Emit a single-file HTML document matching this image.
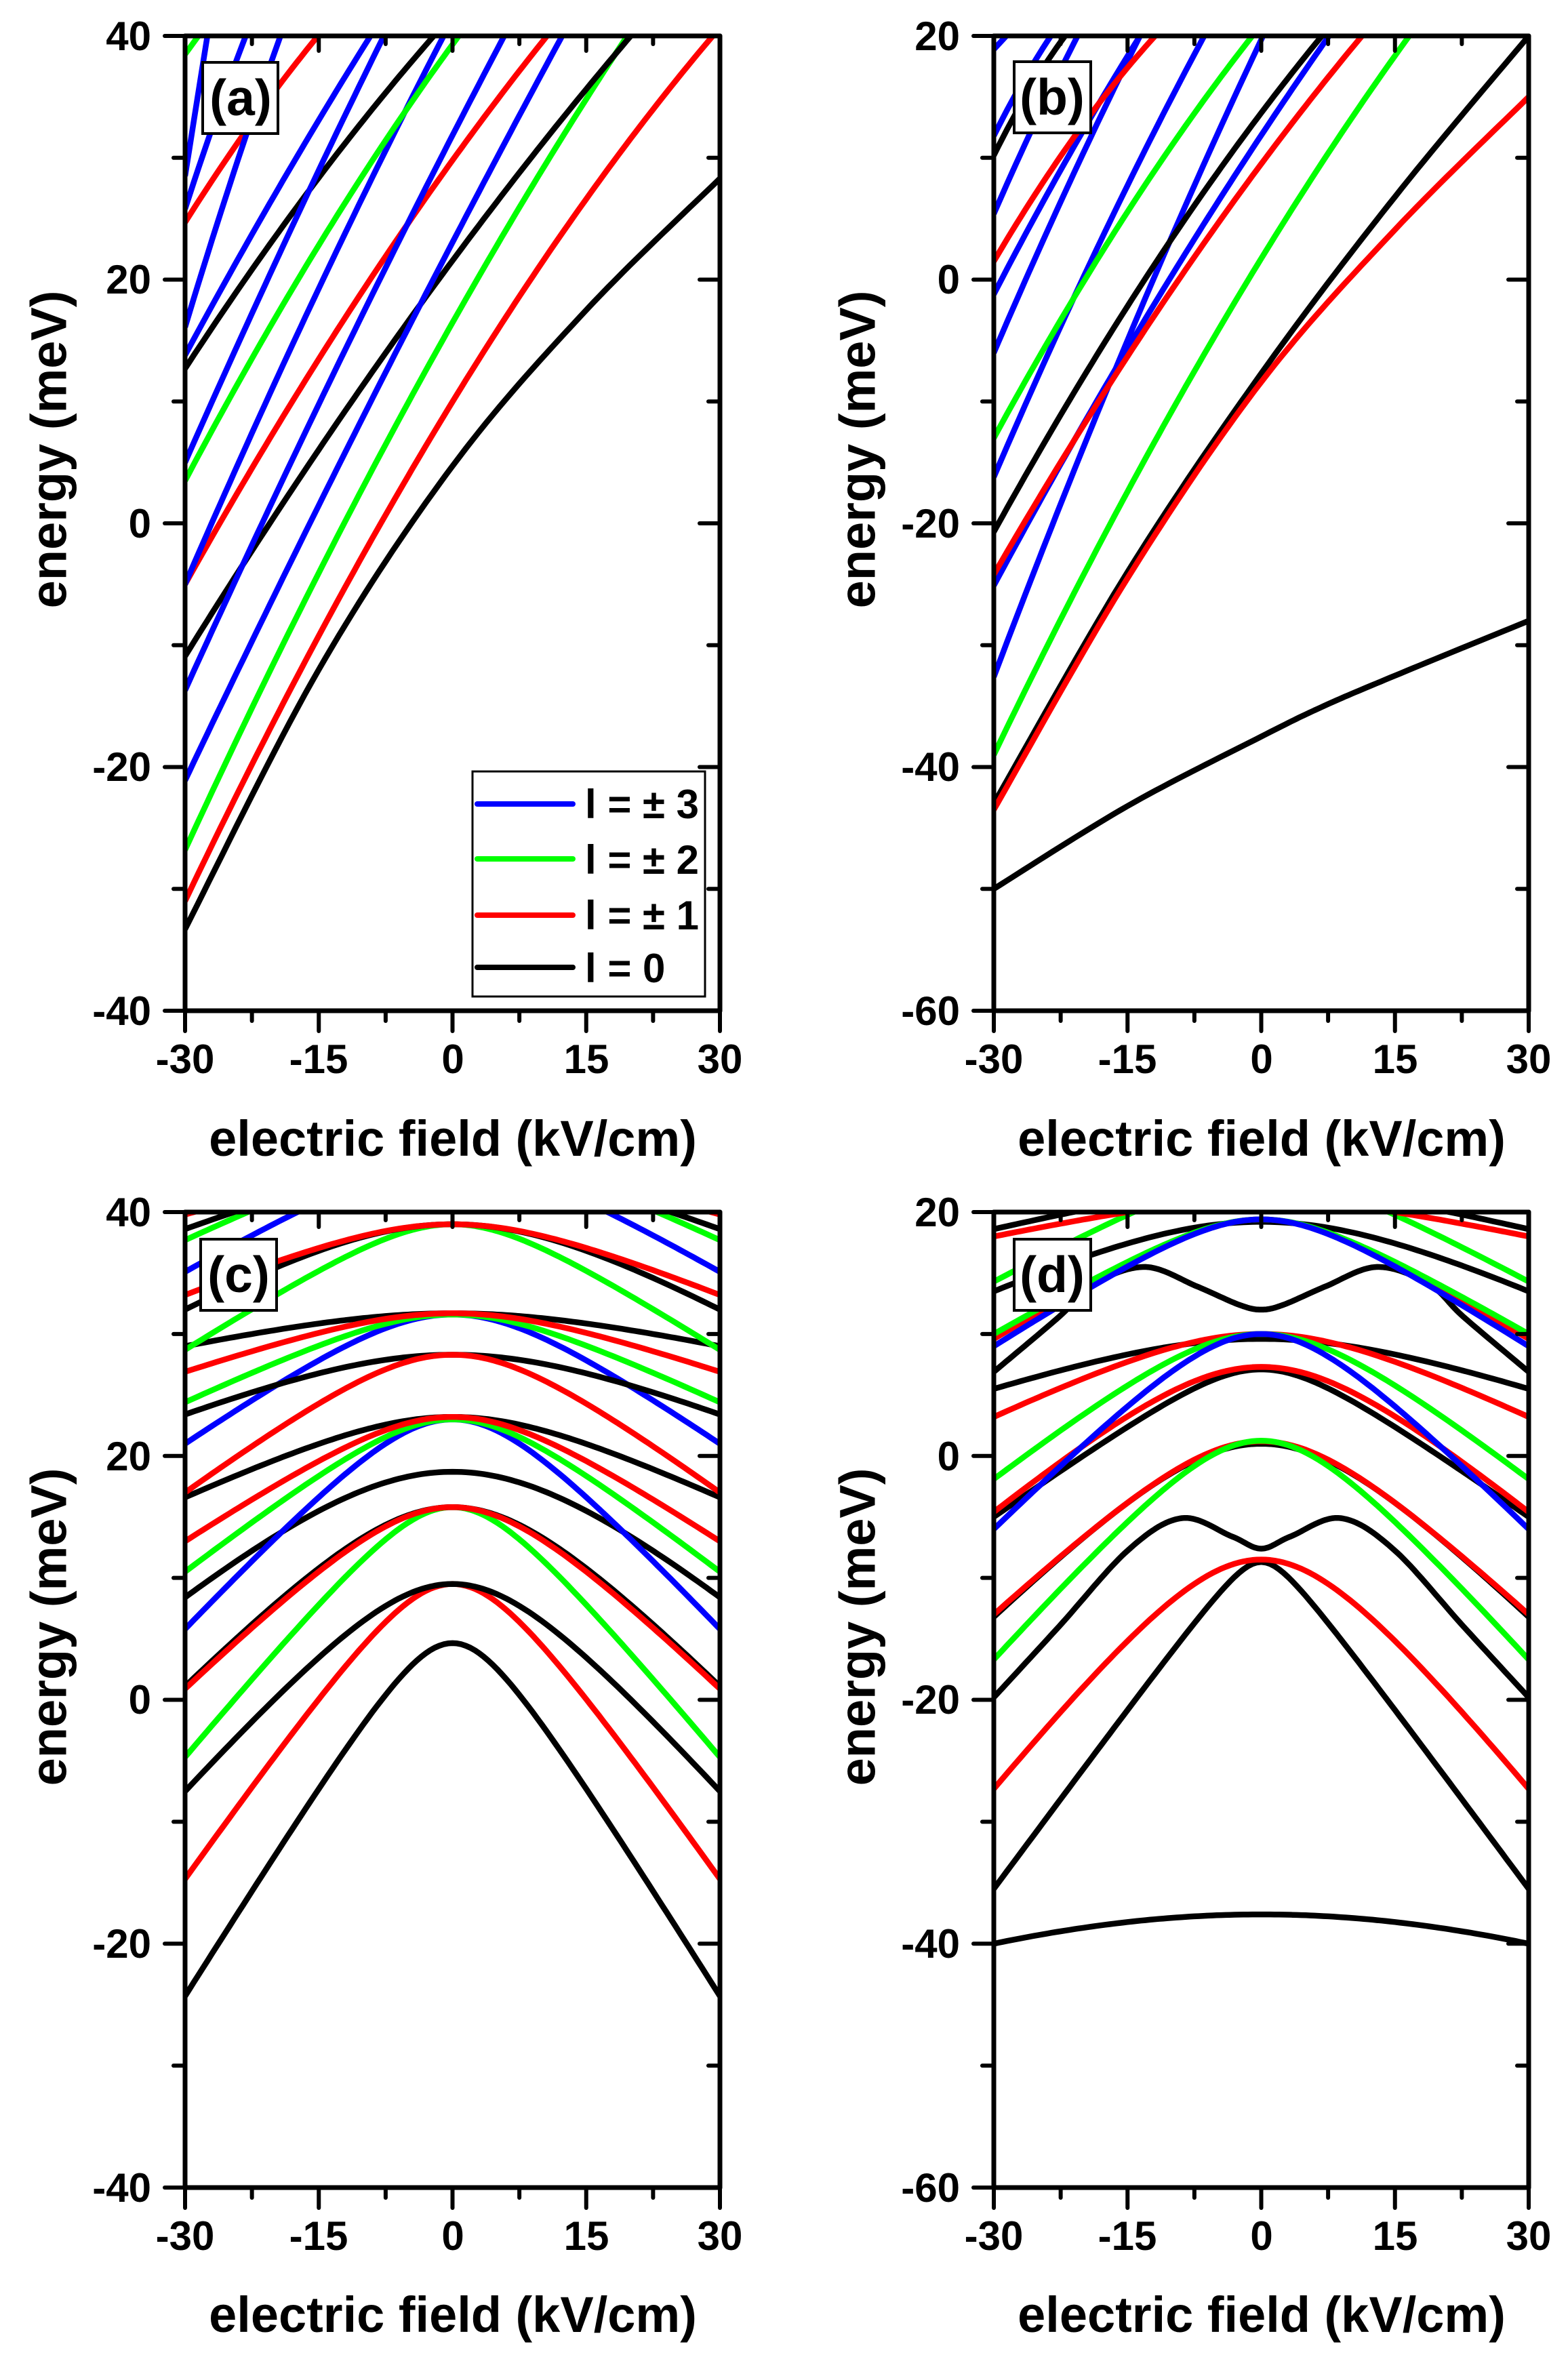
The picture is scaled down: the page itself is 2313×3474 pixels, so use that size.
<!DOCTYPE html>
<html><head><meta charset="utf-8"><style>
html,body{margin:0;padding:0;background:#fff;}
svg{display:block;}
text{font-family:"Liberation Sans",Arial,sans-serif;font-weight:bold;fill:#000;}
</style></head><body>
<svg id="s" width="2313" height="3474" viewBox="0 0 2313 3474" xmlns="http://www.w3.org/2000/svg">
<defs>
<clipPath id="ca"><rect x="273" y="53" width="789" height="1438"/></clipPath>
<clipPath id="cb"><rect x="1466" y="53" width="789" height="1438"/></clipPath>
<clipPath id="cc"><rect x="273" y="1788" width="789" height="1439"/></clipPath>
<clipPath id="cd"><rect x="1466" y="1788" width="789" height="1439"/></clipPath>
</defs>
<g id="curves"></g>
<g id="axes"></g>
<g font-size="60" text-anchor="end">
<text x="223" y="74">40</text><text x="223" y="433">20</text><text x="223" y="793">0</text><text x="223" y="1152">-20</text><text x="223" y="1512">-40</text>
<text x="1416" y="74">20</text><text x="1416" y="433">0</text><text x="1416" y="793">-20</text><text x="1416" y="1152">-40</text><text x="1416" y="1512">-60</text>
<text x="223" y="1809">40</text><text x="223" y="2169">20</text><text x="223" y="2528">0</text><text x="223" y="2888">-20</text><text x="223" y="3248">-40</text>
<text x="1416" y="1809">20</text><text x="1416" y="2169">0</text><text x="1416" y="2528">-20</text><text x="1416" y="2888">-40</text><text x="1416" y="3248">-60</text>
</g>
<g font-size="60" text-anchor="middle">
<text x="273" y="1583">-30</text><text x="470" y="1583">-15</text><text x="668" y="1583">0</text><text x="865" y="1583">15</text><text x="1062" y="1583">30</text>
<text x="1466" y="1583">-30</text><text x="1663" y="1583">-15</text><text x="1861" y="1583">0</text><text x="2058" y="1583">15</text><text x="2255" y="1583">30</text>
<text x="273" y="3319">-30</text><text x="470" y="3319">-15</text><text x="668" y="3319">0</text><text x="865" y="3319">15</text><text x="1062" y="3319">30</text>
<text x="1466" y="3319">-30</text><text x="1663" y="3319">-15</text><text x="1861" y="3319">0</text><text x="2058" y="3319">15</text><text x="2255" y="3319">30</text>
</g>
<g font-size="74" text-anchor="middle">
<text x="668" y="1705">electric field (kV/cm)</text>
<text x="1861" y="1705">electric field (kV/cm)</text>
<text x="668" y="3440">electric field (kV/cm)</text>
<text x="1861" y="3440">electric field (kV/cm)</text>
<text transform="translate(72,663) rotate(-90)" dominant-baseline="central">energy (meV)</text>
<text transform="translate(1265,663) rotate(-90)" dominant-baseline="central">energy (meV)</text>
<text transform="translate(72,2400) rotate(-90)" dominant-baseline="central">energy (meV)</text>
<text transform="translate(1265,2400) rotate(-90)" dominant-baseline="central">energy (meV)</text>
</g>
<g font-size="75" text-anchor="middle">
<rect x="299" y="92" width="111" height="105" fill="#fff" stroke="#000" stroke-width="4"/>
<text x="355" y="170">(a)</text>
<rect x="1496" y="91" width="113" height="105" fill="#fff" stroke="#000" stroke-width="4"/>
<text x="1552" y="169">(b)</text>
<rect x="296" y="1828" width="112" height="105" fill="#fff" stroke="#000" stroke-width="4"/>
<text x="352" y="1906">(c)</text>
<rect x="1496" y="1828" width="113" height="105" fill="#fff" stroke="#000" stroke-width="4"/>
<text x="1552" y="1906">(d)</text>
</g>
<rect x="697" y="1138" width="343" height="332" fill="#fff" stroke="#000" stroke-width="3"/>
<g stroke-width="8" stroke-linecap="round">
<line x1="704" y1="1186" x2="845" y2="1186" stroke="#0000ff"/>
<line x1="704" y1="1267" x2="845" y2="1267" stroke="#00ff00"/>
<line x1="704" y1="1350" x2="845" y2="1350" stroke="#ff0000"/>
<line x1="704" y1="1427" x2="845" y2="1427" stroke="#000"/>
</g>
<g font-size="60">
<text x="863" y="1207">l = ± 3</text>
<text x="863" y="1289">l = ± 2</text>
<text x="863" y="1371">l = ± 1</text>
<text x="863" y="1449">l = 0</text>
</g>
</svg>
<script>
var NS="http://www.w3.org/2000/svg";
var P={a:{x0:273,y0:53,W:789,H:1438,lo:-40,hi:40},b:{x0:1466,y0:53,W:789,H:1438,lo:-60,hi:20},
c:{x0:273,y0:1788,W:789,H:1439,lo:-40,hi:40},d:{x0:1466,y0:1788,W:789,H:1439,lo:-60,hi:20}};
var COL={b:"#0000ff",g:"#00ff00",r:"#ff0000",k:"#000000"};
var cur=document.getElementById("curves"),ax=document.getElementById("axes");
function px(p,F){return p.x0+(F+30)/60*p.W;}
function py(p,E){return p.y0+(p.hi-E)/(p.hi-p.lo)*p.H;}
function addPath(k,col,pts){var p=P[k];var d="";for(var i=0;i<pts.length;i++){d+=(i?"L":"M")+px(p,pts[i][0]).toFixed(1)+" "+py(p,pts[i][1]).toFixed(1);}
var e=document.createElementNS(NS,"path");e.setAttribute("d",d);e.setAttribute("fill","none");e.setAttribute("stroke",COL[col]);e.setAttribute("stroke-width","8.5");e.setAttribute("stroke-linejoin","round");e.setAttribute("clip-path","url(#c"+k+")");cur.appendChild(e);}
function lin(k,col,E0,F1,E1,bend){bend=bend||0;var pts=[];var span=F1+30;for(var F=-30;F<=Math.min(30,F1+span*0.15);F+=0.5){var t=(F+30)/span;var E=E0+(E1-E0)*t+bend*4*t*(1-t);pts.push([F,E]);}addPath(k,col,pts);}
function cr(k,col,P0){var pts=[];for(var i=0;i<P0.length-1;i++){var p0=P0[Math.max(0,i-1)],p1=P0[i],p2=P0[i+1],p3=P0[Math.min(P0.length-1,i+2)];for(var s=0;s<20;s++){var t=s/20,t2=t*t,t3=t2*t;var f=function(a,b,c,d){return 0.5*((2*b)+(-a+c)*t+(2*a-5*b+4*c-d)*t2+(-a+3*b-3*c+d)*t3);};pts.push([f(p0[0],p1[0],p2[0],p3[0]),f(p0[1],p1[1],p2[1],p3[1])]);}}pts.push(P0[P0.length-1]);addPath(k,col,pts);}
function hy(k,col,E0,E30,w){var pts=[];var den=Math.sqrt(1+(30/w)*(30/w))-1;for(var F=-30;F<=30.01;F+=0.5){var E=E0-(E0-E30)*(Math.sqrt(1+(F/w)*(F/w))-1)/den;pts.push([F,E]);}addPath(k,col,pts);}
function sym(k,col,half){var a=[];for(var i=0;i<half.length;i++)a.push(half[i]);for(var i=half.length-2;i>=0;i--)a.push([-half[i][0],half[i][1]]);cr(k,col,a);}

cr("a","k",[[-30,-33.3],[-15,-12],[0,4.7],[15,17.5],[30,28.3]]);
lin("a","r",-31,29.2,40,5);
lin("a","g",-26.8,19.6,40,3);
lin("a","k",-10.9,20,40,2);
lin("a","b",-21.1,12.3,40,1);
lin("a","r",-5,10.6,40,2);
lin("a","b",-13.7,5.8,40,1);
lin("a","b",-5,-1,40,1);
lin("a","g",3.5,0.7,40,1.5);
lin("a","k",12.7,-2.1,40,1);
lin("a","b",5,-7.7,40,0.5);
lin("a","b",13.8,-9.2,40,0.5);
lin("a","r",24.7,-15.1,40,0.5);
lin("a","b",16.1,-19.3,40,0.5);
lin("a","b",25.8,-23.2,40,0.3);
lin("a","b",28.5,-27.5,40,0);
lin("a","g",38.5,-28.5,40,0);
cr("b","k",[[-30,-50],[-15,-43.2],[0,-37.5],[7,-35],[15,-32.5],[30,-28]]);
cr("b","k",[[-30,-43],[-15,-24],[0,-7.7],[15,6.8],[30,20]]);
cr("b","r",[[-30,-43.5],[-15,-24.5],[0,-8.4],[15,4.1],[30,15]]);
lin("b","g",-39,16.6,20,3);
lin("b","b",-32.6,0.2,20,1.5);
lin("b","b",-25.1,7.6,20,1.5);
lin("b","r",-24.2,11.3,20,2);
lin("b","k",-20.7,6.8,20,2);
lin("b","b",-16.2,-6.4,20,1);
lin("b","g",-13,-1,20,1.5);
lin("b","b",-6,-13.6,20,0.5);
lin("b","b",-1.2,-13.6,20,0.5);
lin("b","r",1.5,-11.9,20,1);
lin("b","b",5.4,-20.6,20,0.3);
lin("b","k",10.2,-22,20,0.5);
lin("b","b",11.8,-23.6,20,0.3);
lin("b","b",18.9,-28.6,20,0);
lin("b","g",19.6,-29.7,20,0);
hy("c","k",4.65,-24.3,6);
hy("c","r",9.5,-14.7,8);
hy("c","k",9.5,-7.5,12);
hy("c","g",15.8,-4.7,8);
hy("c","k",15.8,1.1,14);
hy("c","r",15.8,0.9,12);
hy("c","k",18.7,8.4,20);
hy("c","b",23,5.8,10);
hy("c","g",23,10.5,10);
hy("c","k",23.2,16.6,15);
hy("c","r",23.2,13,12);
hy("c","b",31.6,21,12);
hy("c","k",28.3,23.4,20);
hy("c","r",28.3,17,12);
hy("c","g",31.6,24.4,12);
hy("c","k",31.7,29,20);
hy("c","r",31.7,26.9,15);
hy("c","g",39,28.7,10);
hy("c","k",39,32,20);
hy("c","r",39,33.2,15);
hy("c","b",44,35.1,12);
hy("c","g",45,37.7,12);
hy("c","k",44,38.6,15);
hy("c","r",44,39.8,15);
hy("d","k",-37.6,-40,60);
hy("d","k",-8.7,-35.5,3);
hy("d","r",-8.5,-27.3,12);
sym("d","k",[[-30,-19.8],[-22.7,-14],[-14.9,-7.7],[-8.9,-5.1],[-3.3,-6.6],[0,-7.6]]);
hy("d","k",1.0,-13.2,14);
hy("d","r",1.2,-13,12);
hy("d","g",1.25,-16.7,10);
hy("d","k",7.1,-5,8);
hy("d","r",7.3,-4.6,14);
hy("d","k",9.6,5.5,20);
hy("d","r",10,3.2,15);
hy("d","g",10,-1.9,12);
hy("d","b",10,-6,10);
sym("d","k",[[-30,6.9],[-22.7,11.4],[-18.8,14.1],[-13,15.5],[-7.2,13.9],[-2.5,12.4],[0,12]]);
hy("d","k",19.2,13.5,20);
hy("d","r",19.4,9.6,10);
hy("d","g",19.4,10,10);
hy("d","b",19.4,9,10);
hy("d","g",23,14.3,10);
hy("d","r",21,18,15);
hy("d","k",22,18.6,15);

function ln(x1,y1,x2,y2,w){var e=document.createElementNS(NS,"line");e.setAttribute("x1",x1);e.setAttribute("y1",y1);e.setAttribute("x2",x2);e.setAttribute("y2",y2);e.setAttribute("stroke","#000");e.setAttribute("stroke-width",w);e.setAttribute("stroke-linecap","round");ax.appendChild(e);}
for(var key in P){var p=P[key];var xl=p.x0,xr=p.x0+p.W,yt=p.y0,yb=p.y0+p.H;
ln(xl,yt,xr,yt,7);ln(xl,yb,xr,yb,7);ln(xl,yt,xl,yb,7);ln(xr,yt,xr,yb,7);
for(var i=0;i<=8;i++){var x=xl+i*p.W/8;var maj=(i%2==0);
ln(x,yb,x,yb+(maj?30:15),6);ln(x,yt,x,yt+(maj?22:12),6);}
for(var i=0;i<=8;i++){var y=yt+i*p.H/8;var maj=(i%2==0);
ln(xl,y,xl-(maj?30:17),y,6);ln(xr,y,xr-(maj?30:17),y,6);}
}
</script>
</body></html>
